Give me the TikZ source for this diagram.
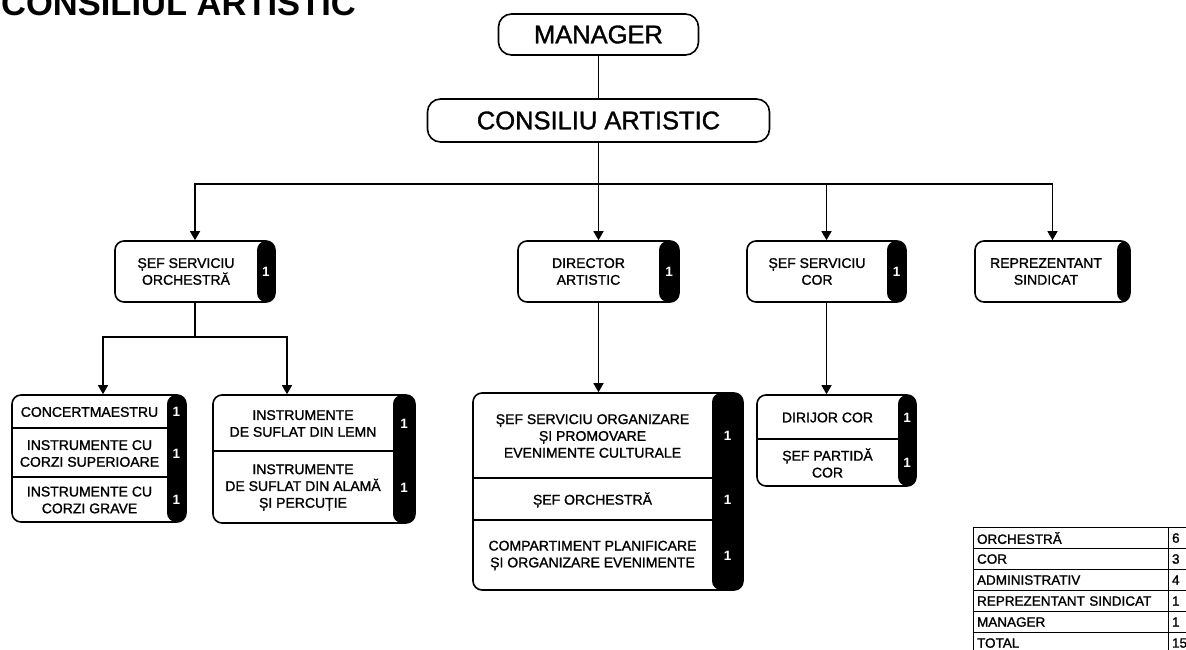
\documentclass[tikz,border=0pt]{standalone}
\usepackage{fontspec}
\setmainfont{Liberation Sans}
\newfontfamily\medfont[FakeBold=1.3]{Liberation Sans}
\usetikzlibrary{arrows.meta,calc}
\begin{document}
\begin{tikzpicture}[x=1pt,y=-1pt,
  box/.style={draw, line width=1.6pt, rounded corners=9pt, inner sep=0pt, fill=white},
  strip/.style={path picture={\fill[black] ([xshift=-#1pt]path picture bounding box.north east) rectangle (path picture bounding box.south east);}},
  lbl/.style={font=\medfont\fontsize{14}{16.8}\selectfont, align=center, inner sep=0pt},
  big/.style={font=\medfont\fontsize{25.5}{25.5}\selectfont},
  num/.style={text=white, font=\bfseries\fontsize{13.5}{13.5}\selectfont, inner sep=0pt},
  conn/.style={line width=1.3pt},
  arr/.style={conn, -{Triangle[length=9pt,width=10pt]}},
  divl/.style={line width=1.5pt},
  tbl/.style={draw, line width=1.1pt, minimum height=21pt, inner ysep=0pt, inner xsep=3.5pt, anchor=north west, align=left, font=\medfont\fontsize{13.5}{13.5}\selectfont},
  tcol1/.style={tbl, text width=188pt},
  tcol2/.style={tbl, text width=33pt}
]
\useasboundingbox (0,0) rectangle (1186,650);

% title
\node[anchor=base west, inner sep=0pt, font=\bfseries\fontsize{34.5}{34.5}\selectfont] (title) at (1,16) {CONSILIUL ARTISTIC};

% top
\node[box, big, rounded corners=13pt, minimum width=200pt, minimum height=41pt] (mgr) at (598.5,34.5) {MANAGER};
\node[box, big, rounded corners=13pt, minimum width=342pt, minimum height=43pt] (cons) at (598.5,120.5) {CONSILIU ARTISTIC};

% second level
\node[box, strip=18, minimum width=160pt, minimum height=61pt] (sso) at (195,271.5) {};
\node[lbl] (sso-t) at (186,271.5) {ȘEF SERVICIU\\ORCHESTRĂ};
\node[num] (sso-n) at (266,271.5) {1};

\node[box, strip=20, minimum width=161pt, minimum height=61pt] (dir) at (598.5,271.5) {};
\node[lbl] (dir-t) at (588.5,271.5) {DIRECTOR\\ARTISTIC};
\node[num] (dir-n) at (669,271.5) {1};

\node[box, strip=19, minimum width=159pt, minimum height=61pt] (ssc) at (826.5,271.5) {};
\node[lbl] (ssc-t) at (817,271.5) {ȘEF SERVICIU\\COR};
\node[num] (ssc-n) at (896.5,271.5) {1};

\node[box, strip=13, minimum width=155pt, minimum height=61pt] (rep) at (1052.5,271.5) {};
\node[lbl] (rep-t) at (1046,271.5) {REPREZENTANT\\SINDICAT};

% stack A
\node[box, strip=19, minimum width=174pt, minimum height=127pt] (sa) at (99,458.5) {};
\draw[divl] ([yshift=-34pt]sa.north west) -- ([yshift=-34pt]sa.north east);
\draw[divl] ([yshift=-83pt]sa.north west) -- ([yshift=-83pt]sa.north east);
\node[lbl] (sa1) at (89.5,412) {CONCERTMAESTRU};
\node[lbl] (sa2) at (89.5,453.5) {INSTRUMENTE CU\\CORZI SUPERIOARE};
\node[lbl] (sa3) at (89.5,500) {INSTRUMENTE CU\\CORZI GRAVE};
\node[num] (sa1n) at (176.5,412) {1};
\node[num] (sa2n) at (176.5,453.5) {1};
\node[num] (sa3n) at (176.5,500) {1};

% stack B
\node[box, strip=22, minimum width=202pt, minimum height=128pt] (sb) at (314,459) {};
\draw[divl] ([yshift=-57pt]sb.north west) -- ([yshift=-57pt]sb.north east);
\node[lbl] (sb1) at (303,423.5) {INSTRUMENTE\\DE SUFLAT DIN LEMN};
\node[lbl] (sb2) at (303,487.5) {INSTRUMENTE\\DE SUFLAT DIN ALAMĂ\\ȘI PERCUȚIE};
\node[num] (sb1n) at (404,423.5) {1};
\node[num] (sb2n) at (404,487.5) {1};

% stack C
\node[box, strip=31, minimum width=270pt, minimum height=197pt] (sc) at (608,491.5) {};
\draw[divl] ([yshift=-86pt]sc.north west) -- ([yshift=-86pt]sc.north east);
\draw[divl] ([yshift=-128pt]sc.north west) -- ([yshift=-128pt]sc.north east);
\node[lbl] (sc1) at (592.5,436) {ȘEF SERVICIU ORGANIZARE\\ȘI PROMOVARE\\EVENIMENTE CULTURALE};
\node[lbl] (sc2) at (592.5,500) {ȘEF ORCHESTRĂ};
\node[lbl] (sc3) at (592.5,555.5) {COMPARTIMENT PLANIFICARE\\ȘI ORGANIZARE EVENIMENTE};
\node[num] (sc1n) at (727.5,436) {1};
\node[num] (sc2n) at (727.5,500) {1};
\node[num] (sc3n) at (727.5,555.5) {1};

% stack D
\node[box, strip=18, minimum width=159pt, minimum height=91pt] (sd) at (836.5,440.5) {};
\draw[divl] ([yshift=-45pt]sd.north west) -- ([yshift=-45pt]sd.north east);
\node[lbl] (sd1) at (827.5,417.5) {DIRIJOR COR};
\node[lbl] (sd2) at (827.5,463) {ȘEF PARTIDĂ\\COR};
\node[num] (sd1n) at (907,417.5) {1};
\node[num] (sd2n) at (907,463) {1};

% connectors
\coordinate (hb) at (598.5,184);
\coordinate (j1) at (195,337);
\draw[conn] (mgr.south) -- (cons.north);
\draw[arr] (cons.south) -- (dir.north);
\draw[arr] (hb) -| (sso.north);
\draw[arr] (hb) -| (ssc.north);
\draw[arr] (hb) -| (rep.north);
\draw[conn] (sso.south) -- (j1);
\draw[arr] (j1) -| ([xshift=4pt]sa.north);
\draw[arr] (j1) -| ([xshift=-27pt]sb.north);
\draw[arr] (dir.south) -- (dir.south |- sc.north);
\draw[arr] (ssc.south) -- (ssc.south |- sd.north);

% table
\node[tcol1] (t1) at (973,527) {ORCHESTRĂ};
\node[tcol1] (t2) at (973,548) {COR};
\node[tcol1] (t3) at (973,569) {ADMINISTRATIV};
\node[tcol1] (t4) at (973,590) {REPREZENTANT SINDICAT};
\node[tcol1] (t5) at (973,611) {MANAGER};
\node[tcol1] (t6) at (973,632) {TOTAL};
\node[tcol2] (v1) at (1168,527) {6};
\node[tcol2] (v2) at (1168,548) {3};
\node[tcol2] (v3) at (1168,569) {4};
\node[tcol2] (v4) at (1168,590) {1};
\node[tcol2] (v5) at (1168,611) {1};
\node[tcol2] (v6) at (1168,632) {15};
\end{tikzpicture}
\end{document}
